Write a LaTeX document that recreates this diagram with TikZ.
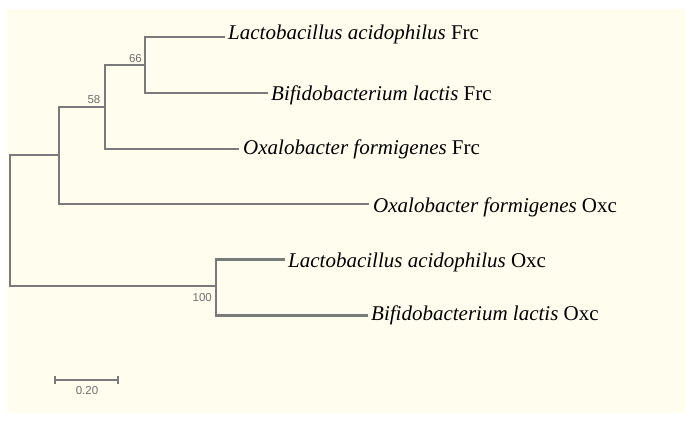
\documentclass[tikz,border=0pt]{standalone}
\usepackage{fontspec}
\setmainfont{Liberation Serif}
\newfontfamily\supfont{Liberation Sans}
\definecolor{cream}{HTML}{FFFEEE}
\definecolor{branch}{HTML}{7A7A7A}
\definecolor{suptext}{HTML}{6E6E6E}
\tikzset{
  branchline/.style={draw=branch, line width=2.5pt, line join=miter},
  leaf/.style={anchor=base west, inner sep=0pt, font=\fontsize{21}{25}\selectfont, text=black},
  support/.style={inner sep=0pt, font=\supfont\fontsize{11.5}{13}\selectfont, text=suptext},
}
\begin{document}
\begin{tikzpicture}[x=1pt,y=-1pt]
\useasboundingbox (0,0) rectangle (693,423);
\fill[white] (0,0) rectangle (693,423);
\fill[cream] (7,9) rectangle (685,413);

% internal nodes
\coordinate (root) at (10,220);
\coordinate (nA) at (59,155);
\coordinate (n58) at (105,107);
\coordinate (n66) at (145,65);
\coordinate (n100) at (216,286);

% tips
\coordinate (t1) at (225,37);
\coordinate (t2) at (268,93);
\coordinate (t3) at (239,149);
\coordinate (t4) at (369,204);
\coordinate (t5) at (285,259.5);
\coordinate (t6) at (368,315.5);

% branches
\draw[branchline] (root) |- (nA);
\draw[branchline] (root) |- (n100);
\draw[branchline] (nA) |- (n58);
\draw[branchline] (nA) |- (t4);
\draw[branchline] (n58) |- (n66);
\draw[branchline] (n58) |- (t3);
\draw[branchline] (n66) |- (t1);
\draw[branchline] (n66) |- (t2);
\draw[branchline] (n100) |- (t5);
\draw[branchline] (n100) |- (t6);

% leaf labels
\node[leaf] (l1) at (228,39.5) {\textit{Lactobacillus acidophilus} Frc};
\node[leaf] (l2) at (271,100) {\textit{Bifidobacterium lactis} Frc};
\node[leaf] (l3) at (243,154.5) {\textit{Oxalobacter formigenes} Frc};
\node[leaf] (l4) at (373,212) {\textit{Oxalobacter formigenes} Oxc};
\node[leaf] (l5) at (288,267.5) {\textit{Lactobacillus acidophilus} Oxc};
\node[leaf] (l6) at (371,320.5) {\textit{Bifidobacterium lactis} Oxc};

% support values
\node[support, anchor=base east] (s66) at (142,62) {66};
\node[support, anchor=base east] (s58) at (100.5,103.5) {58};
\node[support, anchor=base east] (s100) at (212,301.5) {100};

% scale bar
\coordinate (sbL) at (55,380);
\coordinate (sbR) at (118,380);
\draw[branchline, line width=2pt] (sbL) -- (sbR);
\draw[branchline, line width=2pt] ([yshift=-4pt]sbL) -- ([yshift=4pt]sbL);
\draw[branchline, line width=2pt] ([yshift=-4pt]sbR) -- ([yshift=4pt]sbR);
\node[support, anchor=base] (sbt) at (87,394) {0.20};
\end{tikzpicture}
\end{document}
